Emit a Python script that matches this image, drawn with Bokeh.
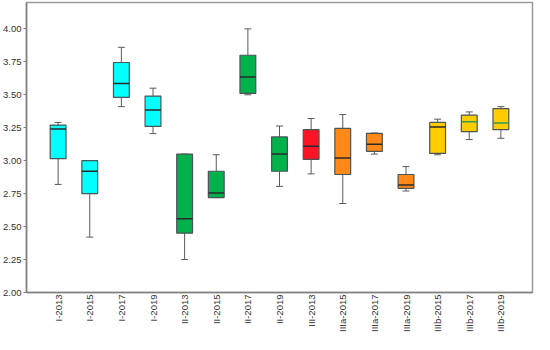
import math
from bokeh.plotting import figure
from bokeh.models import ColumnDataSource, Range1d, FixedTicker, NumeralTickFormatter, FactorRange
from bokeh.transform import dodge
from bokeh.embed import file_html
from bokeh.resources import INLINE

categories = ["I-2013", "I-2015", "I-2017", "I-2019", "II-2013", "II-2015", "II-2017", "II-2019",
              "III-2013", "IIIa-2015", "IIIa-2017", "IIIa-2019", "IIIb-2015", "IIIb-2017", "IIIb-2019"]
whisker_low = [2.82, 2.42, 3.41, 3.205, 2.25, 2.72, 3.50, 2.805, 2.90, 2.675, 3.05, 2.77, 3.045, 3.16, 3.17]
q1 = [3.015, 2.75, 3.48, 3.26, 2.45, 2.72, 3.51, 2.92, 3.01, 2.895, 3.07, 2.79, 3.055, 3.22, 3.235]
median = [3.24, 2.92, 3.585, 3.385, 2.56, 2.755, 3.635, 3.05, 3.11, 3.02, 3.125, 2.815, 3.255, 3.295, 3.285]
q3 = [3.27, 3.00, 3.745, 3.49, 3.05, 2.92, 3.80, 3.18, 3.235, 3.245, 3.207, 2.895, 3.29, 3.345, 3.395]
whisker_high = [3.29, 3.00, 3.86, 3.55, 3.05, 3.045, 4.00, 3.263, 3.32, 3.35, 3.21, 2.955, 3.315, 3.37, 3.41]
box_colors = ["#00FFFF"] * 4 + ["#00B14C"] * 4 + ["#FF1426"] + ["#FF8817"] * 3 + ["#FFCC00"] * 3
median_colors = ["#2a2a2a"] * 13 + ["#2e9a52", "#2e9a52"]
y_ticks = [2.0, 2.25, 2.5, 2.75, 3.0, 3.25, 3.5, 3.75, 4.0]

src = ColumnDataSource(dict(cat=categories, lo=whisker_low, q1=q1, med=median, q3=q3, hi=whisker_high,
                            color=box_colors, mcolor=median_colors))

p = figure(width=534, height=334, output_backend="svg", toolbar_location=None,
           x_range=FactorRange(factors=categories, range_padding=0.5, range_padding_units="absolute"),
           y_range=Range1d(2.0, 4.2))
p.min_border_left = 0
p.min_border_right = 2
p.min_border_top = 2
p.min_border_bottom = 0
p.background_fill_color = "white"
p.outline_line_color = "#9a9a9a"
p.outline_line_width = 1.5
p.xgrid.visible = False
p.ygrid.visible = False

# whiskers
p.segment(x0="cat", y0="lo", x1="cat", y1="q1", source=src, line_color="#5a5a5a", line_width=1)
p.segment(x0="cat", y0="q3", x1="cat", y1="hi", source=src, line_color="#5a5a5a", line_width=1)
p.segment(x0=dodge("cat", -0.11, range=p.x_range), y0="lo", x1=dodge("cat", 0.11, range=p.x_range), y1="lo",
          source=src, line_color="#5a5a5a", line_width=1)
p.segment(x0=dodge("cat", -0.11, range=p.x_range), y0="hi", x1=dodge("cat", 0.11, range=p.x_range), y1="hi",
          source=src, line_color="#5a5a5a", line_width=1)
# boxes
p.vbar(x="cat", bottom="q1", top="q3", width=0.5, source=src, fill_color="color",
       line_color="#4a5555", line_width=1.2)
# medians
p.segment(x0=dodge("cat", -0.25, range=p.x_range), y0="med", x1=dodge("cat", 0.25, range=p.x_range), y1="med",
          source=src, line_color="mcolor", line_width=1.5)

p.yaxis.ticker = FixedTicker(ticks=y_ticks)
p.yaxis.formatter = NumeralTickFormatter(format="0.00")
for ax in (p.xaxis[0], p.yaxis[0]):
    ax.axis_line_color = "#808080"
    ax.axis_line_width = 1.5
    ax.major_label_text_font = "Liberation Sans"
    ax.major_label_text_font_size = "9.5px"
    ax.major_label_text_color = "#333333"
    ax.minor_tick_line_color = None
p.yaxis.major_tick_line_color = "#808080"
p.yaxis.major_tick_out = 3
p.yaxis.major_tick_in = 0
p.yaxis.major_label_standoff = 2
p.xaxis.major_tick_line_color = None
p.xaxis.major_tick_out = 0
p.xaxis.major_label_orientation = math.pi / 2
p.xaxis.major_label_standoff = 2

open("out.html", "w").write(file_html(p, INLINE))
